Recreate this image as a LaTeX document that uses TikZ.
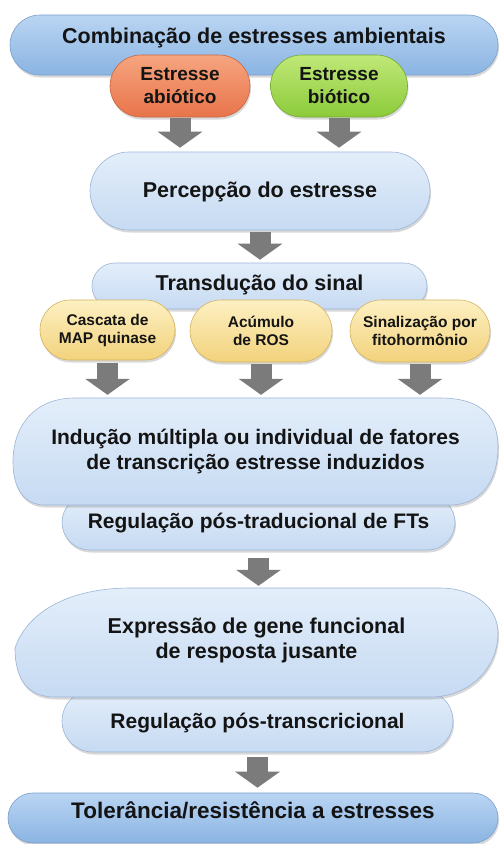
\documentclass[tikz,border=0pt]{standalone}
\usepackage{fontspec}
\setmainfont{Liberation Sans}
\usetikzlibrary{shadows,arrows.meta,calc}

\definecolor{barTop}{HTML}{BAD5F3}
\definecolor{barBot}{HTML}{8AB4E2}
\definecolor{barEdge}{HTML}{7A9FCC}
\definecolor{lbTop}{HTML}{E3EEFA}
\definecolor{lbBot}{HTML}{C6DAF2}
\definecolor{lbEdge}{HTML}{9DB5D6}
\definecolor{orTop}{HTML}{F6A57F}
\definecolor{orBot}{HTML}{E8744A}
\definecolor{orEdge}{HTML}{C86540}
\definecolor{grTop}{HTML}{C0E878}
\definecolor{grBot}{HTML}{8CCB3A}
\definecolor{grEdge}{HTML}{72A830}
\definecolor{yeTop}{HTML}{FDF0C2}
\definecolor{yeBot}{HTML}{F2D27C}
\definecolor{yeEdge}{HTML}{D4B25E}
\definecolor{arrowGray}{HTML}{7B7B7B}
\definecolor{txt}{HTML}{141414}

\begin{document}
\begin{tikzpicture}[x=1pt,y=-1pt,
  every node/.style={text=txt, inner sep=0pt},
  shad/.style={drop shadow={opacity=0.3, shadow xshift=1pt, shadow yshift=-2.5pt}},
  bar/.style={shad, draw=barEdge, line width=0.6pt, top color=barTop, bottom color=barBot},
  light/.style={shad, draw=lbEdge, line width=0.6pt, top color=lbTop, bottom color=lbBot},
  orpill/.style={shad, draw=orEdge, line width=0.6pt, top color=orTop, bottom color=orBot},
  grpill/.style={shad, draw=grEdge, line width=0.6pt, top color=grTop, bottom color=grBot},
  yepill/.style={shad, draw=yeEdge, line width=0.6pt, top color=yeTop, bottom color=yeBot},
  fbig/.style={font=\bfseries\fontsize{21.5pt}{25pt}\selectfont},
  fmed/.style={font=\bfseries\fontsize{21pt}{25pt}\selectfont},
  ftol/.style={font=\bfseries\fontsize{22.5pt}{26pt}\selectfont},
  fmid/.style={font=\bfseries\fontsize{19pt}{23pt}\selectfont},
  fsmall/.style={font=\bfseries\fontsize{15.5pt}{18pt}\selectfont},
  blockarrow/.style={draw=arrowGray, line width=21pt, -{Triangle[width=44pt,length=16pt]}},
]
\fill[white] (0,0) rectangle (500,844);
\useasboundingbox (0,0) rectangle (500,844);

% top bar and stress types
\node[bar, fbig, minimum width=488pt, minimum height=60pt, rounded corners=30pt,
      text height=15pt, text depth=19pt] (comb) at (254,45) {Combinação de estresses ambientais};
\node[orpill, fmid, align=center, minimum width=140pt, minimum height=62pt, rounded corners=31pt]
      (abio) at (180,86) {Estresse\\abiótico};
\node[grpill, fmid, align=center, minimum width=137pt, minimum height=62pt, rounded corners=31pt]
      (bio) at (339,86) {Estresse\\biótico};

% perception
\node[light, fbig, minimum width=340pt, minimum height=78pt, rounded corners=39pt,
      text height=15pt, text depth=3pt] (percep) at (260,191) {Percepção do estresse};

% transduction
\node[light, fbig, minimum width=335pt, minimum height=46pt, rounded corners=23pt,
      text height=15pt, text depth=6.6pt] (trans) at (259.5,286) {Transdução do sinal};
\node[yepill, fsmall, align=center, minimum width=135pt, minimum height=60pt, rounded corners=30pt]
      (casc) at (107.5,330) {Cascata de\\MAP quinase};
\node[yepill, fsmall, align=center, minimum width=142pt, minimum height=62pt, rounded corners=31pt]
      (acum) at (261,331) {Acúmulo\\de ROS};
\node[yepill, fsmall, align=center, minimum width=140pt, minimum height=62pt, rounded corners=31pt]
      (sinal) at (420,331) {Sinalização por\\fitohormônio};

% TF induction
\node[light, fmed, minimum width=393pt, minimum height=55pt, rounded corners=27.5pt,
      text height=15pt, text depth=3pt] (regft) at (258.5,522.5) {Regulação pós-traducional de FTs};
\path[light] (75,398) -- (440,398) .. controls (485,398) and (498,420) .. (498,447)
  .. controls (498,482) and (480,505) .. (450,505) -- (45,505)
  .. controls (25,505) and (13,490) .. (13,462)
  .. controls (13,425) and (35,398) .. (75,398) -- cycle;
\node[fmed, align=center, minimum width=485pt, minimum height=107pt]
      (ind) at (255.5,451.5) {Indução múltipla ou individual de fatores\\de transcrição estresse induzidos};

% gene expression
\node[light, fmed, minimum width=391pt, minimum height=62pt, rounded corners=31pt,
      text height=15pt, text depth=0pt] (regtr) at (257.5,721) {Regulação pós-transcricional};
\path[light] (130,588) -- (440,588) .. controls (475,588) and (498,608) .. (498,633)
  .. controls (498,668) and (470,697) .. (430,697) -- (55,697)
  .. controls (28,697) and (15,680) .. (15,648)
  .. controls (28,610) and (72,588) .. (130,588) -- cycle;
\node[fbig, align=center, minimum width=483pt, minimum height=105pt]
      (exp) at (256.5,640.5) {Expressão de gene funcional\\de resposta jusante};

% tolerance
\node[bar, ftol, minimum width=490pt, minimum height=50pt, rounded corners=25pt,
      text height=10pt, text depth=10pt] (tol) at (253,818) {Tolerância/resistência a estresses};

% arrows
\draw[blockarrow, shorten <=1pt, shorten >=4pt] (abio.south) -- (abio.south |- percep.north);
\draw[blockarrow, shorten <=1pt, shorten >=4pt] (bio.south) -- (bio.south |- percep.north);
\draw[blockarrow, shorten <=2pt, shorten >=3pt] (percep.south) -- (percep.south |- trans.north);
\draw[blockarrow, shorten <=3pt, shorten >=3pt] (casc.south) -- (casc.south |- ind.north);
\draw[blockarrow, shorten <=2pt, shorten >=3pt] (acum.south) -- (acum.south |- ind.north);
\draw[blockarrow, shorten <=2pt, shorten >=3pt] (sinal.south) -- (sinal.south |- ind.north);
\draw[blockarrow, shorten <=8pt, shorten >=2pt] (regft.south) -- (regft.south |- exp.north);
\draw[blockarrow, shorten <=5pt, shorten >=5pt] (regtr.south) -- (regtr.south |- tol.north);
\end{tikzpicture}
\end{document}
